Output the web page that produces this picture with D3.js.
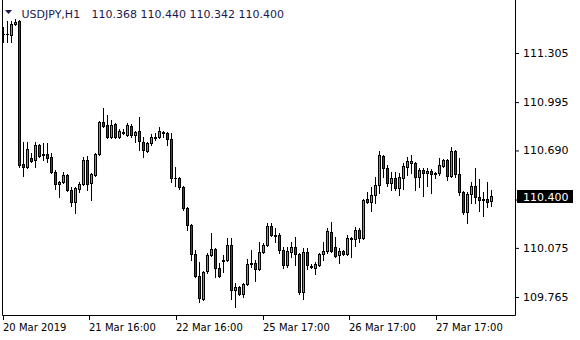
<!DOCTYPE html>
<html>
<head>
<meta charset="utf-8">
<script src="https://cdn.jsdelivr.net/npm/d3@7"></script>
<style>
  html, body { margin: 0; padding: 0; background: #fff; }
  svg { display: block; }
  text { font-family: "DejaVu Sans", Verdana, sans-serif; }
</style>
</head>
<body>
<svg id="chart" width="580" height="340"></svg>
<script>
// USDJPY H1 bars, oldest first
const symbol = "USDJPY,H1";

const open = [
  111.427, 111.427, 111.421, 111.490, 111.509, 110.604, 110.585, 110.642, 110.630, 110.725,
  110.668, 110.668, 110.649, 110.554, 110.478, 110.490, 110.535, 110.440, 110.364, 110.446,
  110.478, 110.630, 110.484, 110.535, 110.668, 110.870, 110.851, 110.775, 110.857, 110.775,
  110.800, 110.788, 110.845, 110.788, 110.813, 110.744, 110.687, 110.737, 110.769, 110.775,
  110.807, 110.800, 110.762, 110.516, 110.516, 110.459, 110.326, 110.218, 110.035, 109.896,
  109.750, 109.927, 110.029, 110.067, 109.946, 109.994, 109.997, 110.092, 109.807, 109.826,
  109.782, 109.845, 109.978, 109.978, 109.940, 110.048, 110.092, 110.212, 110.155, 110.155,
  110.060, 109.965, 110.048, 110.079, 110.035, 109.795, 110.048, 109.959, 109.946, 109.965,
  110.035, 110.054, 110.174, 110.079, 110.029, 110.054, 110.035, 110.136, 110.130, 110.187,
  110.136, 110.383, 110.364, 110.408, 110.472, 110.655, 110.579, 110.484, 110.516, 110.452,
  110.516, 110.585, 110.611, 110.611, 110.522, 110.566, 110.547, 110.560, 110.544, 110.547,
  110.592, 110.630, 110.528, 110.687, 110.541, 110.427, 110.301, 110.415, 110.465, 110.396,
  110.383, 110.383, 110.368
];
const high = [
  111.471, 111.509, 111.509, 111.522, 111.515, 110.744, 110.744, 110.674, 110.744, 110.731,
  110.737, 110.737, 110.674, 110.566, 110.497, 110.554, 110.541, 110.459, 110.459, 110.490,
  110.649, 110.655, 110.547, 110.674, 110.876, 110.959, 110.914, 110.883, 110.864, 110.826,
  110.826, 110.864, 110.857, 110.813, 110.902, 110.775, 110.744, 110.794, 110.800, 110.838,
  110.813, 110.807, 110.800, 110.585, 110.522, 110.465, 110.332, 110.225, 110.060, 109.984,
  109.927, 110.041, 110.168, 110.073, 109.978, 110.029, 110.136, 110.136, 109.852, 109.833,
  109.852, 110.003, 110.060, 109.997, 110.111, 110.105, 110.231, 110.231, 110.199, 110.168,
  110.079, 110.079, 110.111, 110.142, 110.041, 110.073, 110.073, 109.972, 109.984, 110.041,
  110.111, 110.199, 110.237, 110.142, 110.073, 110.060, 110.155, 110.142, 110.206, 110.199,
  110.383, 110.427, 110.459, 110.522, 110.687, 110.661, 110.598, 110.554, 110.554, 110.547,
  110.611, 110.649, 110.661, 110.617, 110.579, 110.579, 110.579, 110.573, 110.554, 110.642,
  110.636, 110.636, 110.712, 110.693, 110.642, 110.434, 110.427, 110.490, 110.579, 110.509,
  110.427, 110.490, 110.440
];
const low = [
  111.376, 111.376, 111.376, 111.484, 110.585, 110.528, 110.579, 110.617, 110.585, 110.649,
  110.630, 110.617, 110.547, 110.446, 110.396, 110.484, 110.434, 110.339, 110.294, 110.427,
  110.472, 110.440, 110.377, 110.528, 110.661, 110.838, 110.769, 110.769, 110.769, 110.769,
  110.794, 110.782, 110.775, 110.744, 110.693, 110.649, 110.680, 110.725, 110.756, 110.769,
  110.775, 110.725, 110.490, 110.465, 110.446, 110.313, 110.187, 109.997, 109.889, 109.731,
  109.744, 109.915, 110.022, 109.889, 109.889, 109.921, 109.991, 109.750, 109.700, 109.776,
  109.763, 109.839, 109.953, 109.864, 109.934, 110.041, 110.086, 110.149, 110.111, 110.041,
  109.946, 109.953, 110.016, 109.965, 109.782, 109.750, 109.940, 109.946, 109.908, 109.959,
  109.997, 110.041, 110.048, 110.016, 109.978, 110.029, 110.029, 110.016, 110.086, 110.111,
  110.130, 110.358, 110.307, 110.358, 110.421, 110.522, 110.465, 110.440, 110.440, 110.408,
  110.446, 110.535, 110.547, 110.440, 110.459, 110.402, 110.465, 110.421, 110.516, 110.535,
  110.585, 110.503, 110.522, 110.522, 110.408, 110.288, 110.231, 110.358, 110.358, 110.307,
  110.275, 110.332, 110.342
];
const close = [
  111.424, 111.425, 111.490, 111.503, 110.598, 110.585, 110.699, 110.623, 110.725, 110.655,
  110.664, 110.642, 110.554, 110.478, 110.490, 110.535, 110.440, 110.364, 110.452, 110.478,
  110.630, 110.478, 110.541, 110.668, 110.870, 110.845, 110.775, 110.851, 110.775, 110.813,
  110.807, 110.851, 110.788, 110.807, 110.750, 110.693, 110.737, 110.775, 110.775, 110.813,
  110.800, 110.762, 110.516, 110.513, 110.459, 110.326, 110.218, 110.035, 109.896, 109.757,
  109.921, 110.029, 110.067, 109.946, 109.896, 109.997, 110.092, 109.807, 109.826, 109.782,
  109.845, 109.972, 109.975, 109.940, 110.048, 110.092, 110.212, 110.155, 110.152, 110.060,
  109.965, 110.054, 110.079, 110.035, 109.795, 110.048, 109.965, 109.956, 109.972, 110.035,
  110.054, 110.180, 110.054, 110.022, 110.054, 110.035, 110.136, 110.133, 110.187, 110.136,
  110.377, 110.364, 110.408, 110.472, 110.661, 110.579, 110.484, 110.516, 110.452, 110.522,
  110.592, 110.623, 110.623, 110.522, 110.566, 110.547, 110.560, 110.541, 110.547, 110.598,
  110.630, 110.528, 110.687, 110.541, 110.427, 110.301, 110.415, 110.465, 110.396, 110.377,
  110.380, 110.364, 110.400
];

// price scale marks; the 110.380 one sits under the current-price box, so it gets no label
const yTicks = [111.305, 110.995, 110.690, 110.380, 110.075, 109.765];
const yHidden = [110.380];
// time labels, positioned in bar units
const xTickBars = [0, 21.5, 43.25, 65, 86.5, 108.25];
const xTickLabels = ["20 Mar 2019", "21 Mar 16:00", "22 Mar 16:00", "25 Mar 17:00", "26 Mar 17:00", "27 Mar 17:00"];

const BULL = "#34c434", BEAR = "#e00000", INK = "#000", TITLE = "#1a1a50";

const svg = d3.select("#chart");
const x = d3.scaleLinear().domain([0, 128]).range([3, 515]);
const y = d3.scaleLinear().domain([109.765, 111.305]).range([297, 53]);
const fmt = d3.format(".3f");

const bars = open.map((o, i) => ({ i, o, h: high[i], l: low[i], c: close[i] }));

// frame: left, bottom, right
svg.append("path")
  .attr("d", `M2.5,0 V315.5 H515.5 V0`)
  .attr("fill", "none")
  .attr("stroke", INK);

// candles
const candle = svg.append("g").selectAll("g")
  .data(bars)
  .join("g");

candle.append("line")
  .attr("x1", d => Math.round(x(d.i)) + 0.5)
  .attr("x2", d => Math.round(x(d.i)) + 0.5)
  .attr("y1", d => Math.round(y(d.h)))
  .attr("y2", d => Math.round(y(d.l)) + 1)
  .attr("stroke", INK);

candle.each(function (d) {
  const px = Math.round(x(d.i));
  const top = Math.round(y(Math.max(d.o, d.c)));
  const bot = Math.round(y(Math.min(d.o, d.c)));
  const g = d3.select(this);
  if (bot - top < 1) {
    // doji: flat dash
    g.append("line")
      .attr("x1", px - 1).attr("x2", px + 2)
      .attr("y1", top + 0.5).attr("y2", top + 0.5)
      .attr("stroke", INK);
  } else {
    g.append("rect")
      .attr("x", px - 0.5)
      .attr("y", top + 0.5)
      .attr("width", 2)
      .attr("height", bot - top)
      .attr("fill", d.c >= d.o ? BULL : BEAR)
      .attr("stroke", INK);
  }
});

// price axis on the right
svg.append("g")
  .attr("transform", `translate(${x(128)},0)`)
  .call(d3.axisRight(y).tickValues(yTicks).tickSize(4).tickPadding(4)
    .tickFormat(d => yHidden.includes(d) ? "" : fmt(d)))
  .call(g => g.select(".domain").remove())
  .call(g => g.selectAll("line").attr("stroke", INK))
  .call(g => g.selectAll("text")
    .attr("fill", INK)
    .attr("font-size", 11)
    .attr("font-family", '"DejaVu Sans", Verdana, sans-serif'));

// time axis
svg.append("g")
  .attr("transform", "translate(0,316)")
  .call(d3.axisBottom(x).tickValues(xTickBars).tickSize(4).tickPadding(4)
    .tickFormat((d, i) => xTickLabels[i]))
  .call(g => g.select(".domain").remove())
  .call(g => g.selectAll("line").attr("stroke", INK))
  .call(g => g.selectAll("text")
    .attr("fill", INK)
    .attr("text-anchor", "start")
    .attr("x", -0.5)
    .attr("font-size", 10)
    .attr("font-family", '"DejaVu Sans", Verdana, sans-serif'));

// current price marker
const last = bars[bars.length - 1];
const yLast = Math.round(y(last.c));
svg.append("rect")
  .attr("x", 517).attr("y", yLast - 6)
  .attr("width", 56).attr("height", 13)
  .attr("fill", "#000");
svg.append("text")
  .attr("x", 523).attr("y", yLast + 4.5)
  .attr("fill", "#fff")
  .attr("font-size", 11)
  .text(fmt(last.c));

// header: symbol and last bar OHLC
svg.append("path")
  .attr("d", "M5,10 H12 L8.5,14 Z")
  .attr("fill", TITLE);
const head = svg.append("text")
  .attr("y", 17.5)
  .attr("fill", TITLE)
  .attr("font-size", 11);
head.append("tspan").attr("x", 21.5).text(symbol);
head.append("tspan").attr("x", 91.5)
  .text([last.o, last.h, last.l, last.c].map(fmt).join(" "));
</script>
</body>
</html>
